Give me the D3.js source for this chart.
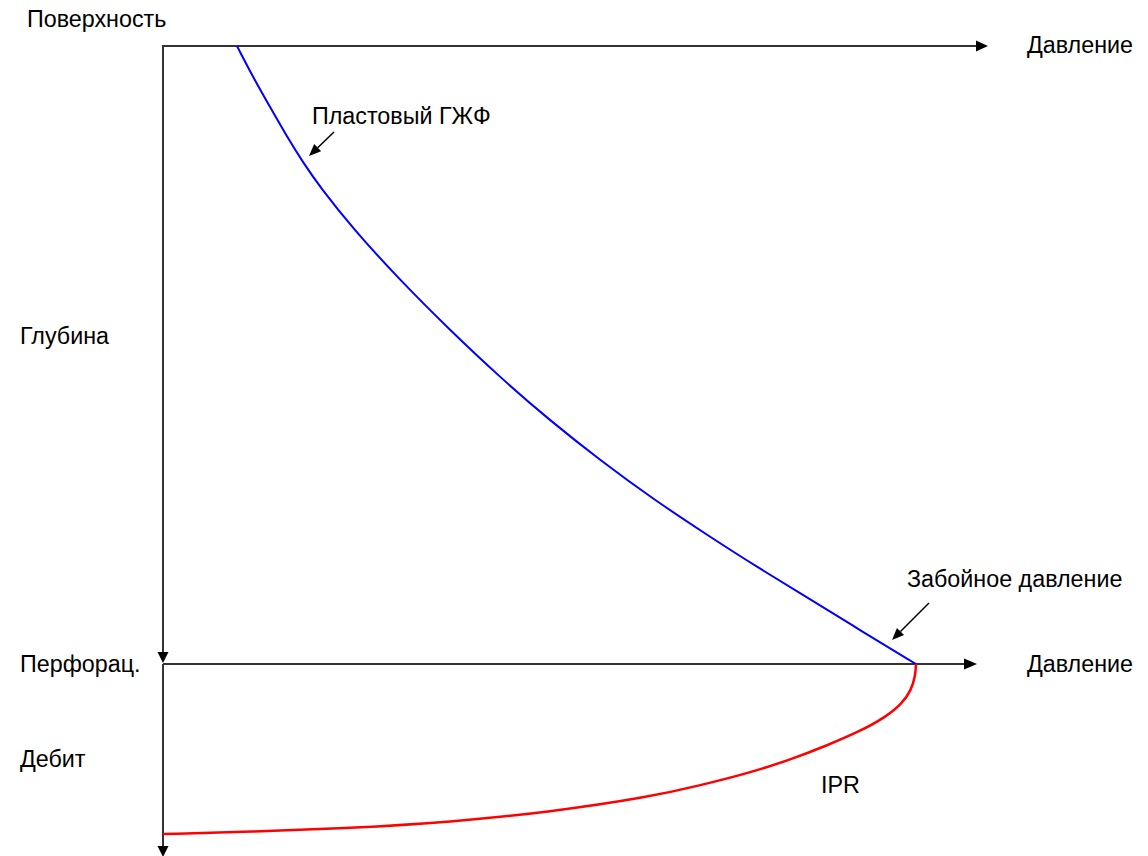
<!DOCTYPE html>
<html>
<head>
<meta charset="utf-8">
<script src="https://cdn.jsdelivr.net/npm/d3@7"></script>
<style>
  html, body { margin: 0; padding: 0; background: #fff; }
  svg text { font-family: "Liberation Sans", Arial, sans-serif; font-size: 23.3px; fill: #000; }
</style>
</head>
<body>
<script>
// Pressure (0..100) vs depth (0..100) — formation gas-liquid gradient (blue)
const gradPressure = [8.97, 10.9, 12.97, 15.0, 17.0, 19.03, 23.0, 28.73, 34.8, 40.85, 46.9, 52.97, 59.4, 65.94, 72.0, 78.06, 84.7, 91.27];
const gradDepth    = [0, 5.0, 9.87, 14.6, 18.9, 22.8, 29.5, 37.9, 46.0, 53.6, 60.6, 67.0, 73.3, 79.1, 84.3, 89.2, 94.7, 100];
// IPR: pressure (0..100) vs flow rate (0..100)
const iprPressure = [91.27, 91.2, 90.7, 89.6, 87.5, 84.4, 80.6, 76.1, 71.0, 65.0, 59.0, 46.9, 34.8, 22.7, 10.5, 0];
const iprRate     = [0, 6.0, 13.5, 20.5, 27.8, 35.0, 42.0, 49.5, 56.5, 63.0, 68.9, 76.7, 81.9, 85.0, 87.0, 88.1];
// Labels
const axisLabels = ["Поверхность", "Давление", "Глубина", "Перфорац.", "Давление", "Дебит"];
const curveLabels = ["Пластовый ГЖФ", "Забойное давление", "IPR"];

const W = 1148, H = 856;
const svg = d3.select("body").append("svg").attr("width", W).attr("height", H);

const x = d3.scaleLinear().domain([0, 100]).range([163, 988]);
const yDepth = d3.scaleLinear().domain([0, 100]).range([46, 664]);
const yRate = d3.scaleLinear().domain([0, 100]).range([664, 857]);

const axisColor = "#333";
function arrowHead(tx, ty, dir, len, half, color) {
  let p;
  if (dir === "right") p = [[tx, ty], [tx - len, ty - half], [tx - len, ty + half]];
  else p = [[tx, ty], [tx - half, ty - len], [tx + half, ty - len]];
  svg.append("path").attr("d", "M" + p.map(d => d.join(",")).join("L") + "Z").attr("fill", color || "#000");
}

// Top pressure axis
svg.append("line").attr("x1", x(0)).attr("y1", yDepth(0)).attr("x2", x(100) - 10).attr("y2", yDepth(0))
  .attr("stroke", axisColor).attr("stroke-width", 2);
arrowHead(x(100), yDepth(0), "right", 12, 5.5);
// Depth axis
svg.append("line").attr("x1", x(0)).attr("y1", yDepth(0) - 1).attr("x2", x(0)).attr("y2", yDepth(100) - 8)
  .attr("stroke", axisColor).attr("stroke-width", 2);
arrowHead(x(0), yDepth(100) - 1, "down", 11, 5.5);
// Bottom pressure axis
svg.append("line").attr("x1", x(0)).attr("y1", yDepth(100)).attr("x2", x(100) - 22).attr("y2", yDepth(100))
  .attr("stroke", axisColor).attr("stroke-width", 2);
arrowHead(x(100) - 11, yDepth(100), "right", 13, 5.5);
// Rate axis
svg.append("line").attr("x1", x(0)).attr("y1", yRate(0)).attr("x2", x(0)).attr("y2", yRate(100) - 8)
  .attr("stroke", axisColor).attr("stroke-width", 2);
arrowHead(x(0), yRate(100), "down", 11, 5.5);

// Blue gradient curve
const gradData = gradPressure.map((p, i) => ({ p, d: gradDepth[i] }));
svg.append("path").datum(gradData)
  .attr("d", d3.line().x(d => x(d.p)).y(d => yDepth(d.d)).curve(d3.curveBasis))
  .attr("fill", "none").attr("stroke", "#0000ff").attr("stroke-width", 2);

// Red IPR curve
const iprData = iprPressure.map((p, i) => ({ p, q: iprRate[i] }));
svg.append("path").datum(iprData)
  .attr("d", d3.line().x(d => x(d.p)).y(d => yRate(d.q)).curve(d3.curveBasis))
  .attr("fill", "none").attr("stroke", "#ff0000").attr("stroke-width", 2.5);

// Annotation arrows
function annArrow(x1, y1, x2, y2) {
  const ang = Math.atan2(y2 - y1, x2 - x1);
  const len = 12, half = 5;
  const bx = x2 - len * Math.cos(ang), by = y2 - len * Math.sin(ang);
  svg.append("line").attr("x1", x1).attr("y1", y1).attr("x2", bx).attr("y2", by)
    .attr("stroke", "#000").attr("stroke-width", 1.5);
  const px = -Math.sin(ang) * half, py = Math.cos(ang) * half;
  svg.append("path")
    .attr("d", `M${x2},${y2}L${bx + px},${by + py}L${bx - px},${by - py}Z`)
    .attr("fill", "#000");
}
annArrow(334, 132, 309, 156);
annArrow(929, 603, 892, 640);

// Labels
const labelPos = [[27, 27], [1027, 53], [20, 344], [20, 672], [1027, 672], [20, 767]];
axisLabels.forEach((t, i) => {
  svg.append("text").attr("x", labelPos[i][0]).attr("y", labelPos[i][1]).text(t);
});
const curveLabelPos = [[312, 124], [907, 587], [821, 793]];
curveLabels.forEach((t, i) => {
  svg.append("text").attr("x", curveLabelPos[i][0]).attr("y", curveLabelPos[i][1]).text(t);
});
</script>
</body>
</html>
